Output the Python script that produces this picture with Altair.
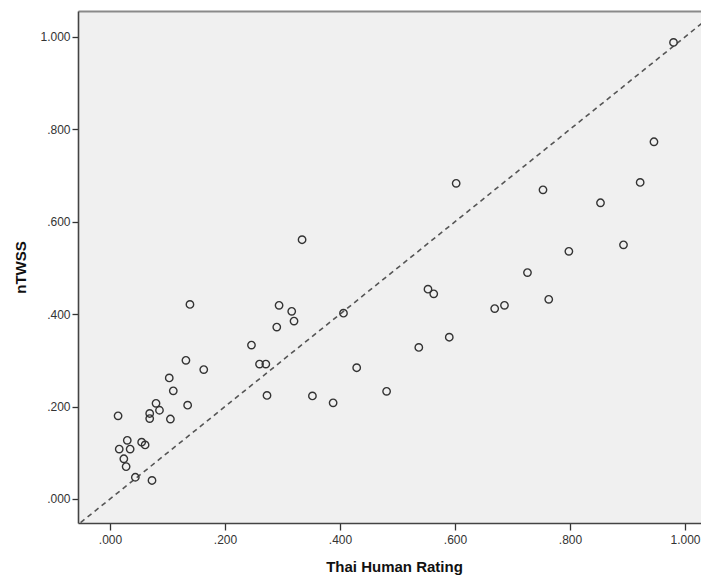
import altair as alt
import pandas as pd

# Thai Human Rating (x) vs nTWSS (y)
human = [0.980, 0.946, 0.602, 0.753, 0.922, 0.853, 0.334, 0.893, 0.798, 0.726,
         0.553, 0.563, 0.763, 0.669, 0.686, 0.139, 0.294, 0.316, 0.320, 0.406,
         0.290, 0.590, 0.537, 0.246, 0.260, 0.271, 0.132, 0.163, 0.429, 0.103,
         0.110, 0.481, 0.273, 0.352, 0.388, 0.080, 0.086, 0.135, 0.014, 0.069,
         0.069, 0.105, 0.030, 0.055, 0.061, 0.016, 0.035, 0.024, 0.028, 0.044,
         0.073]
ntwss = [0.988, 0.773, 0.683, 0.669, 0.685, 0.641, 0.561, 0.550, 0.536, 0.490,
         0.454, 0.444, 0.432, 0.412, 0.419, 0.421, 0.419, 0.406, 0.385, 0.402,
         0.372, 0.350, 0.328, 0.333, 0.292, 0.292, 0.300, 0.280, 0.284, 0.262,
         0.234, 0.233, 0.224, 0.223, 0.208, 0.207, 0.192, 0.203, 0.180, 0.185,
         0.174, 0.173, 0.127, 0.123, 0.117, 0.108, 0.108, 0.087, 0.070, 0.047,
         0.040]

diag = [-0.1, 1.1]
ticks = [0.0, 0.2, 0.4, 0.6, 0.8, 1.0]

xdom = [-0.0557, 1.0278]
ydom = [-0.052, 1.056]

pts = pd.DataFrame({"x": human, "y": ntwss})
line = pd.DataFrame({"x": diag, "y": diag})

label_expr = "datum.value >= 1 ? format(datum.value, '.3f') : substring(format(datum.value, '.3f'), 1)"

xs = alt.Scale(domain=xdom, nice=False, zero=False)
ys = alt.Scale(domain=ydom, nice=False, zero=False)

xaxis = alt.Axis(values=ticks, labelExpr=label_expr, grid=False, tickSize=7,
                 labelPadding=4, title="Thai Human Rating",
                 titleX=316, titleY=43, titleBaseline="middle", titleAlign="center")
xaxis_top = alt.Axis(orient="top", labels=False, ticks=False, grid=False, title=None,
                     domainColor="#8a8a8a", domainWidth=2.2)
yaxis = alt.Axis(values=ticks, labelExpr=label_expr, grid=False, tickSize=6,
                 labelPadding=2, title="nTWSS",
                 titleX=-58, titleY=256, titleBaseline="middle", titleAlign="center",
                 titleAngle=270)

diag_layer = alt.Chart(line).mark_line(
    color="#555555", strokeDash=[5, 4], strokeWidth=1.6, clip=True
).encode(
    x=alt.X("x:Q", scale=xs, axis=xaxis),
    y=alt.Y("y:Q", scale=ys, axis=yaxis),
)

pt_layer = alt.Chart(pts).mark_point(
    shape="circle", filled=False, color="#333333", size=55, strokeWidth=1.4, opacity=1
).encode(
    x=alt.X("x:Q", scale=xs, axis=xaxis_top),
    y=alt.Y("y:Q", scale=ys),
)

chart = alt.layer(diag_layer, pt_layer).resolve_axis(x="independent").properties(
    width=623, height=512,
    autosize=alt.AutoSizeParams(type="none"),
    padding={"left": 70, "top": 3, "right": 0, "bottom": 55},
    background="white",
).configure_view(
    fill="#f0f0f0", strokeWidth=0
).configure_axis(
    domainColor="#444444", domainWidth=1.6, tickColor="#333333", tickWidth=1.3,
    labelFont="Liberation Sans", labelFontSize=12, labelColor="#333333",
    titleFont="Liberation Sans", titleFontSize=15, titleFontWeight="bold",
    titleColor="#111111",
)

chart.save("out.html", embed_options={"renderer": "svg", "actions": False})
